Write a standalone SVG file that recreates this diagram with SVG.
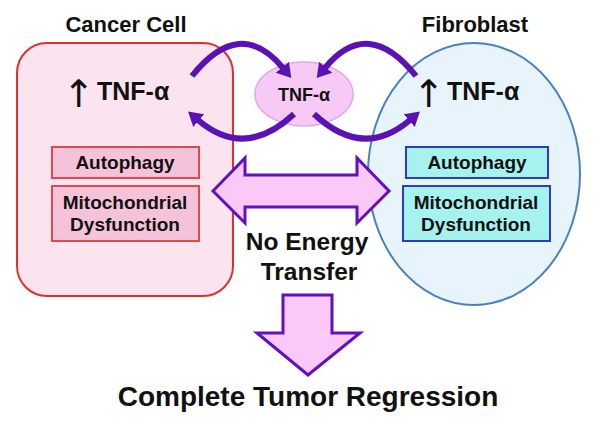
<svg xmlns="http://www.w3.org/2000/svg" width="600" height="433" viewBox="0 0 600 433">
<defs>
<style>
text{font-family:"Liberation Sans",Arial,sans-serif;font-weight:bold;fill:#111;text-anchor:middle}
.head{font-size:22px}
.tnf{font-size:25px;text-anchor:start}
.up{font-family:"DejaVu Sans","Liberation Sans",sans-serif;font-size:38px;font-weight:normal}
.lbl{font-size:19px}
.mid{font-size:24.5px}
.res{font-size:28px}
.pinkbox{fill:#f5c3d9;stroke:#e04a4a;stroke-width:2}
.cyanbox{fill:#a6f2ee;stroke:#2a3cc6;stroke-width:2}
.curve{fill:none;stroke:#5a12b4;stroke-width:6;stroke-linecap:butt}
.bigarrow{fill:#fbc8f8;stroke:#6010c0;stroke-width:3;stroke-linejoin:miter}
</style>
<marker id="ah" markerUnits="userSpaceOnUse" markerWidth="16" markerHeight="22" viewBox="0 -11 16 22" refX="1" refY="0" orient="auto">
<path d="M0,-8.5 L14,0 L0,8.5 z" fill="#5a12b4"/>
</marker>
</defs>
<rect width="600" height="433" fill="#fff"/>

<g id="cancer-cell">
<rect x="17" y="43" width="216" height="253" rx="30" ry="30" fill="#fbe4ef" stroke="#e0302a" stroke-width="2"/>
<text class="head" x="126" y="32">Cancer Cell</text>
<text class="up" x="79" y="107">↑</text>
<text class="tnf" x="97" y="100">TNF-α</text>
</g>
<g id="cancer-autophagy">
<rect class="pinkbox" x="52" y="147" width="147" height="31"/>
<text class="lbl" x="125" y="169">Autophagy</text>
</g>
<g id="cancer-mito">
<rect class="pinkbox" x="52" y="186" width="147" height="55"/>
<text class="lbl" x="125" y="209">Mitochondrial</text>
<text class="lbl" x="125" y="231">Dysfunction</text>
</g>

<g id="fibroblast">
<ellipse cx="474" cy="174" rx="106" ry="131" fill="#e8f4fb" stroke="#4a80c0" stroke-width="2"/>
<text class="head" x="475" y="32">Fibroblast</text>
<text class="up" x="429" y="107">↑</text>
<text class="tnf" x="447" y="100">TNF-α</text>
</g>
<g id="fibro-autophagy">
<rect class="cyanbox" x="406" y="147" width="142" height="31"/>
<text class="lbl" x="477" y="169">Autophagy</text>
</g>
<g id="fibro-mito">
<rect class="cyanbox" x="403" y="186" width="147" height="55"/>
<text class="lbl" x="476" y="209">Mitochondrial</text>
<text class="lbl" x="476" y="231">Dysfunction</text>
</g>

<g id="tnf-center">
<ellipse cx="304" cy="94" rx="49" ry="32" fill="#f7c9f5" stroke="#e2a6ea" stroke-width="1.5"/>
<text x="304" y="101" style="font-size:18px">TNF-α</text>
</g>

<g id="connectors">
<path class="curve" d="M192,76 Q240,16 283,68" marker-end="url(#ah)"/>
<path class="curve" d="M294,114 Q245,160 198,120" marker-end="url(#ah)"/>
<path class="curve" d="M416,76 Q368,16 325,68" marker-end="url(#ah)"/>
<path class="curve" d="M314,114 Q363,160 410,120" marker-end="url(#ah)"/>
<path class="bigarrow" d="M213,191 L245,158 L245,175 L357,175 L357,158 L389,191 L357,223 L357,207 L245,207 L245,223 z"/>
<path class="bigarrow" d="M283,295 L332,295 L332,333 L360,333 L308,375 L257,333 L283,333 z"/>
</g>

<g id="no-energy">
<text class="mid" x="307" y="250">No Energy</text>
<text class="mid" x="309" y="280">Transfer</text>
</g>
<g id="result">
<text class="res" x="308" y="406">Complete Tumor Regression</text>
</g>
</svg>
